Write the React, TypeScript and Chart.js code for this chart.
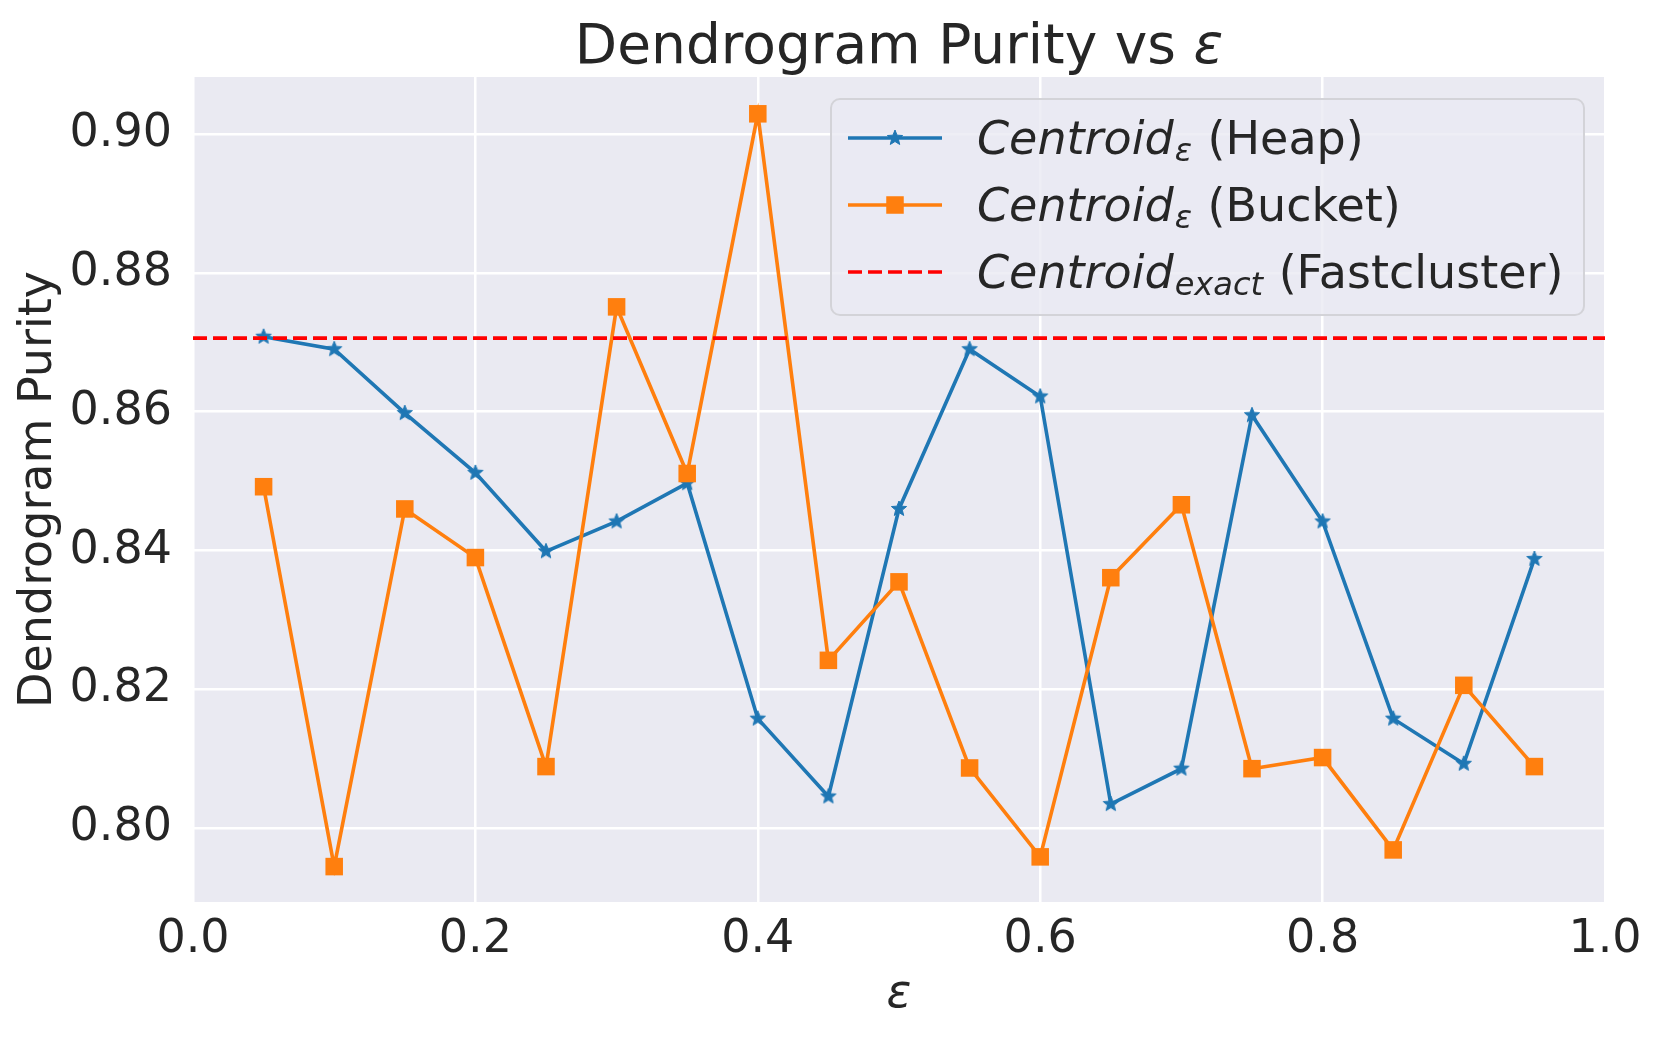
import React, { useEffect, useRef } from 'react';
import { Chart, registerables } from 'chart.js';

Chart.register(...registerables);

// ---------------- data ----------------
const epsilonValues = [0.05, 0.1, 0.15, 0.2, 0.25, 0.3, 0.35, 0.4, 0.45, 0.5, 0.55, 0.6, 0.65, 0.7, 0.75, 0.8, 0.85, 0.9, 0.95];
const heapPurity = [0.8708, 0.869, 0.8598, 0.8512, 0.8399, 0.8442, 0.8497, 0.8158, 0.8046, 0.846, 0.869, 0.8622, 0.8035, 0.8086, 0.8595, 0.8442, 0.8158, 0.8093, 0.8388];
const bucketPurity = [0.8492, 0.7945, 0.846, 0.839, 0.8089, 0.8751, 0.8511, 0.9029, 0.8242, 0.8355, 0.8087, 0.7959, 0.8361, 0.8466, 0.8086, 0.8102, 0.7969, 0.8206, 0.8089];
const exactPurity = 0.8706;
const xTickValues = [0, 0.2, 0.4, 0.6, 0.8, 1.0];
const yTickValues = [0.8, 0.82, 0.84, 0.86, 0.88, 0.9];
const titleMain = 'Dendrogram Purity vs ';
const titleSymbol = 'ε';
const xAxisTitle = 'ε';
const yAxisTitle = 'Dendrogram Purity';
const legendMain = ['Centroid', 'Centroid', 'Centroid'];
const legendSub = ['ε', 'ε', 'exact'];
const legendRest = [' (Heap)', ' (Bucket)', ' (Fastcluster)'];

// ---------------- styles ----------------
const FAMILY = "'DejaVu Sans', sans-serif";
const TEXT = '#262626';
const BLUE = '#1f77b4';
const ORANGE = '#ff7f0e';
const RED = '#ff0000';
const LINE_W = 3.6;
const DASH = [14, 6];
const FS = 46;

function drawStarPath(g: CanvasRenderingContext2D, cx: number, cy: number, outer: number, inner: number) {
  g.beginPath();
  for (let i = 0; i < 10; i++) {
    const r = i % 2 === 0 ? outer : inner;
    const a = -Math.PI / 2 + (i * Math.PI) / 5;
    const px = cx + r * Math.cos(a);
    const py = cy + r * Math.sin(a);
    if (i === 0) g.moveTo(px, py);
    else g.lineTo(px, py);
  }
  g.closePath();
}

function makeStar(color: string) {
  const size = 22;
  const c = document.createElement('canvas');
  c.width = size;
  c.height = size;
  const g = c.getContext('2d')!;
  drawStarPath(g, size / 2, size / 2, 8, 3.5);
  g.fillStyle = color;
  g.fill();
  g.strokeStyle = color;
  g.lineWidth = 1;
  g.stroke();
  return c;
}

const bgPlugin = {
  id: 'bgPlugin',
  beforeDraw(chart: any) {
    const { ctx, chartArea } = chart;
    ctx.save();
    ctx.fillStyle = '#EAEAF2';
    ctx.fillRect(chartArea.left, chartArea.top, chartArea.right - chartArea.left, chartArea.bottom - chartArea.top);
    ctx.restore();
  },
};

const overlayPlugin = {
  id: 'overlayPlugin',
  afterDraw(chart: any) {
    const { ctx, chartArea } = chart;
    ctx.save();
    // Title
    ctx.fillStyle = TEXT;
    ctx.textBaseline = 'alphabetic';
    ctx.textAlign = 'left';
    ctx.font = `55px ${FAMILY}`;
    const w1 = ctx.measureText(titleMain).width;
    ctx.font = `italic 55px ${FAMILY}`;
    const w2 = ctx.measureText(titleSymbol).width;
    const cx = (chartArea.left + chartArea.right) / 2;
    const tx = cx - (w1 + w2) / 2;
    ctx.font = `55px ${FAMILY}`;
    ctx.fillText(titleMain, tx, 63);
    ctx.font = `italic 55px ${FAMILY}`;
    ctx.fillText(titleSymbol, tx + w1, 63);

    // Legend box
    const bx = 831, by = 99, bw = 753, bh = 216, br = 9;
    ctx.beginPath();
    ctx.moveTo(bx + br, by);
    ctx.lineTo(bx + bw - br, by);
    ctx.arcTo(bx + bw, by, bx + bw, by + br, br);
    ctx.lineTo(bx + bw, by + bh - br);
    ctx.arcTo(bx + bw, by + bh, bx + bw - br, by + bh, br);
    ctx.lineTo(bx + br, by + bh);
    ctx.arcTo(bx, by + bh, bx, by + bh - br, br);
    ctx.lineTo(bx, by + br);
    ctx.arcTo(bx, by, bx + br, by, br);
    ctx.closePath();
    ctx.fillStyle = 'rgba(234,234,242,0.8)';
    ctx.fill();
    ctx.strokeStyle = '#d3d3d8';
    ctx.lineWidth = 2;
    ctx.stroke();

    const rowY = [138, 205, 272];
    const hx0 = 848, hx1 = 942, hm = 895;
    for (let i = 0; i < 3; i++) {
      const y = rowY[i];
      ctx.beginPath();
      ctx.moveTo(hx0, y);
      ctx.lineTo(hx1, y);
      ctx.lineWidth = LINE_W;
      ctx.lineCap = 'butt';
      if (i === 0) {
        ctx.strokeStyle = BLUE;
        ctx.setLineDash([]);
        ctx.stroke();
        drawStarPath(ctx, hm, y, 8, 3.5);
        ctx.fillStyle = BLUE;
        ctx.fill();
        ctx.lineWidth = 1;
        ctx.stroke();
      } else if (i === 1) {
        ctx.strokeStyle = ORANGE;
        ctx.setLineDash([]);
        ctx.stroke();
        ctx.fillStyle = ORANGE;
        ctx.fillRect(hm - 8.75, y - 8.75, 17.5, 17.5);
      } else {
        ctx.strokeStyle = RED;
        ctx.setLineDash(DASH);
        ctx.stroke();
        ctx.setLineDash([]);
      }
      // text
      const base = y + 16;
      let x = 977;
      ctx.fillStyle = TEXT;
      ctx.font = `italic ${FS}px ${FAMILY}`;
      ctx.fillText(legendMain[i], x, base);
      x += ctx.measureText(legendMain[i]).width + 1;
      ctx.font = `italic 32px ${FAMILY}`;
      ctx.fillText(legendSub[i], x, base + 7);
      x += ctx.measureText(legendSub[i]).width + 1;
      ctx.font = `${FS}px ${FAMILY}`;
      ctx.fillText(legendRest[i], x, base);
    }
    ctx.restore();
  },
};

export default function App() {
  const canvasRef = useRef<HTMLCanvasElement | null>(null);

  useEffect(() => {
    document.body.style.margin = '0';
    const canvas = canvasRef.current;
    if (!canvas) return;
    const star = makeStar(BLUE);

    const heapPoints = epsilonValues.map((x, i) => ({ x, y: heapPurity[i] }));
    const bucketPoints = epsilonValues.map((x, i) => ({ x, y: bucketPurity[i] }));
    const exactPoints = [
      { x: xTickValues[0], y: exactPurity },
      { x: xTickValues[xTickValues.length - 1], y: exactPurity },
    ];

    const chart = new Chart(canvas, {
      type: 'line',
      data: {
        datasets: [
          {
            label: 'Heap',
            data: heapPoints,
            borderColor: BLUE,
            backgroundColor: BLUE,
            borderWidth: LINE_W,
            pointStyle: star as any,
            pointRadius: 8,
            tension: 0,
            order: 3,
          },
          {
            label: 'Bucket',
            data: bucketPoints,
            borderColor: ORANGE,
            backgroundColor: ORANGE,
            borderWidth: LINE_W,
            pointStyle: 'rect',
            pointRadius: 12.4,
            pointBorderWidth: 0,
            tension: 0,
            order: 2,
          },
          {
            label: 'Fastcluster',
            data: exactPoints,
            borderColor: RED,
            borderWidth: LINE_W,
            borderDash: DASH,
            pointRadius: 0,
            tension: 0,
            order: 1,
          },
        ] as any,
      },
      options: {
        animation: false,
        responsive: false,
        devicePixelRatio: 1,
        layout: { padding: { left: 0, right: 56, top: 77, bottom: 0 } },
        plugins: {
          legend: { display: false },
          title: { display: false },
          tooltip: { enabled: false },
        },
        events: [],
        scales: {
          x: {
            type: 'linear',
            min: 0,
            max: 1,
            afterBuildTicks: (scale: any) => {
              scale.ticks = xTickValues.map((v) => ({ value: v }));
            },
            afterFit: (scale: any) => {
              scale.height = 136;
            },
            ticks: {
              color: TEXT,
              font: { family: FAMILY, size: FS },
              padding: 10,
              maxRotation: 0,
              callback: (v: any) => Number(v).toFixed(1),
            },
            grid: { color: '#ffffff', lineWidth: 2.5, drawTicks: false },
            border: { display: false },
            title: {
              display: true,
              text: xAxisTitle,
              color: TEXT,
              font: { family: FAMILY, size: FS, style: 'italic' },
              padding: { top: 0, bottom: 15 },
            },
          },
          y: {
            type: 'linear',
            min: 0.7894,
            max: 0.9082,
            afterBuildTicks: (scale: any) => {
              scale.ticks = yTickValues.map((v) => ({ value: v }));
            },
            afterFit: (scale: any) => {
              scale.width = 193;
            },
            ticks: {
              color: TEXT,
              font: { family: FAMILY, size: FS },
              padding: 21,
              callback: (v: any) => Number(v).toFixed(2),
            },
            grid: { color: '#ffffff', lineWidth: 2.5, drawTicks: false },
            border: { display: false },
            title: {
              display: true,
              text: yAxisTitle,
              color: TEXT,
              font: { family: FAMILY, size: FS },
              padding: { top: 11, bottom: 0 },
            },
          },
        },
      },
      plugins: [bgPlugin, overlayPlugin],
    } as any);

    return () => {
      chart.destroy();
    };
  }, []);

  return (
    <div style={{ position: 'absolute', left: 0, top: 0, width: 1661, height: 1038, background: '#ffffff' }}>
      <canvas ref={canvasRef} width={1661} height={1038} style={{ width: 1661, height: 1038, display: 'block' }} />
    </div>
  );
}
